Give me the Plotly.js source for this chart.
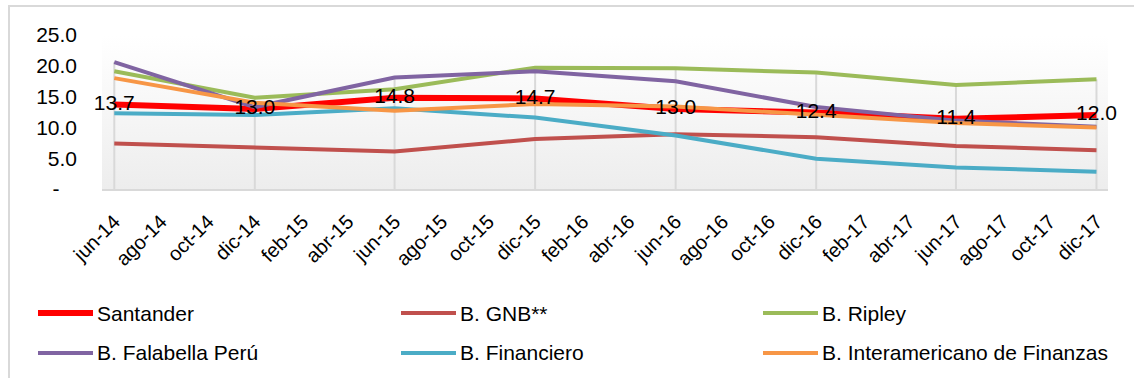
<!DOCTYPE html>
<html>
<head>
<meta charset="utf-8">
<script src="https://cdn.plot.ly/plotly-3.0.1.min.js"></script>
<style>
  html, body { margin: 0; padding: 0; background: #ffffff; overflow: hidden; }
  #chart { position: absolute; left: 0; top: 0; width: 1134px; height: 378px; }
  #frame { position: absolute; left: 8px; top: 5px; width: 1300px; height: 600px;
           border-left: 2px solid #d9d9d9; border-top: 2px solid #d9d9d9; pointer-events: none; }
</style>
</head>
<body>
<div id="frame"></div>
<div id="chart"></div>
<script>
// ---- data ----
const months = ['2014-06-01','2014-12-01','2015-06-01','2015-12-01','2016-06-01','2016-12-01','2017-06-01','2017-12-01'];
const santander      = [13.7, 13.0, 14.8, 14.7, 13.0, 12.4, 11.4, 12.0];
const gnb            = [7.4, 6.8, 6.1, 8.1, 8.9, 8.4, 7.0, 6.3];
const ripley         = [19.1, 14.8, 16.2, 19.7, 19.6, 18.9, 16.9, 17.8];
const falabella      = [20.6, 13.3, 18.1, 19.1, 17.5, 13.3, 11.1, 10.1];
const financiero     = [12.3, 12.0, 13.1, 11.6, 8.7, 4.9, 3.5, 2.8];
const interamericano = [18.0, 14.0, 12.7, 13.8, 13.4, 12.0, 10.7, 10.0];

const seriesNames  = ['Santander', 'B. GNB**', 'B. Ripley', 'B. Falabella Perú', 'B. Financiero', 'B. Interamericano de Finanzas'];
const seriesValues = [santander, gnb, ripley, falabella, financiero, interamericano];
const seriesColors = ['#ff0000', '#c0504d', '#9bbb59', '#8064a2', '#4bacc6', '#f79646'];

const xTickVals = ['2014-06-01','2014-08-01','2014-10-01','2014-12-01','2015-02-01','2015-04-01','2015-06-01','2015-08-01','2015-10-01','2015-12-01','2016-02-01','2016-04-01','2016-06-01','2016-08-01','2016-10-01','2016-12-01','2017-02-01','2017-04-01','2017-06-01','2017-08-01','2017-10-01','2017-12-01'];
const xTickText = ['jun-14','ago-14','oct-14','dic-14','feb-15','abr-15','jun-15','ago-15','oct-15','dic-15','feb-16','abr-16','jun-16','ago-16','oct-16','dic-16','feb-17','abr-17','jun-17','ago-17','oct-17','dic-17'];
const yTickVals = [0, 5, 10, 15, 20, 25];
const yTickText = ['-\u00a0\u00a0\u00a0', '5.0', '10.0', '15.0', '20.0', '25.0'];

// ---- layout constants (pixels) ----
const W = 1134, H = 378;
const PL = 102, PR = 1108, PT = 35, PB = 189;
const FONT = 'Arial, "Liberation Sans", sans-serif';

const toPX = px => (px - PL) / (PR - PL);
const toPY = py => (PB - py) / (PB - PT);

const traces = seriesNames.map((name, i) => ({
  type: 'scatter', mode: 'lines', name: name,
  x: months, y: seriesValues[i],
  line: { color: seriesColors[i], width: i === 0 ? 6 : 4 },
  hoverinfo: 'skip'
}));
// data labels for Santander on top
traces.push({
  type: 'scatter', mode: 'text', x: months, y: santander,
  text: santander.map(v => v.toFixed(1)),
  textposition: 'middle center', cliponaxis: false,
  textfont: { family: FONT, size: 21, color: '#000000' },
  hoverinfo: 'skip', showlegend: false
});

// drop lines from highest point to axis
const shapes = months.map((m, i) => ({
  type: 'line', xref: 'x', yref: 'y', layer: 'below',
  x0: m, x1: m, y0: 0, y1: Math.max(...seriesValues.map(s => s[i])),
  line: { color: '#d9d9d9', width: 2 }
}));

// custom legend
const legendCols = [38, 401, 763];
const legendRows = [313, 353];
const annotations = [];
seriesNames.forEach((name, i) => {
  const cx = legendCols[i % 3], cy = legendRows[Math.floor(i / 3)];
  shapes.push({
    type: 'line', xref: 'paper', yref: 'paper',
    x0: toPX(cx), x1: toPX(cx + 55), y0: toPY(cy), y1: toPY(cy),
    line: { color: seriesColors[i], width: i === 0 ? 6 : 4 }
  });
  annotations.push({
    xref: 'paper', yref: 'paper', x: toPX(cx + 57), y: toPY(cy),
    xanchor: 'left', yanchor: 'middle', showarrow: false,
    text: name, font: { family: FONT, size: 21, color: '#000000' }
  });
});

const grad = 'data:image/svg+xml;utf8,' + encodeURIComponent(
  '<svg xmlns="http://www.w3.org/2000/svg" width="10" height="100" preserveAspectRatio="none">' +
  '<defs><linearGradient id="g" x1="0" y1="0" x2="0" y2="1">' +
  '<stop offset="0" stop-color="#ffffff"/><stop offset="0.13" stop-color="#fdfdfd"/>' +
  '<stop offset="1" stop-color="#ededed"/></linearGradient></defs>' +
  '<rect width="10" height="100" fill="url(#g)"/></svg>');

const layout = {
  width: W, height: H,
  margin: { l: PL, r: W - PR, t: PT, b: H - PB, pad: 0 },
  paper_bgcolor: 'rgba(0,0,0,0)',
  plot_bgcolor: 'rgba(0,0,0,0)',
  showlegend: false,
  font: { family: FONT, color: '#000000' },
  xaxis: {
    type: 'date', range: ['2014-05-16', '2017-12-16'],
    tickvals: xTickVals, ticktext: xTickText, tickangle: -45,
    tickfont: { family: FONT, size: 20, color: '#000000' },
    showgrid: false, zeroline: false,
    showline: true, linecolor: '#d9d9d9', linewidth: 2,
    ticks: '', ticklabelstandoff: 11, fixedrange: true
  },
  yaxis: {
    range: [0, 25], tickvals: yTickVals, ticktext: yTickText,
    tickfont: { family: FONT, size: 21, color: '#000000' },
    showgrid: false, zeroline: false, showline: false,
    ticks: '', ticklabelstandoff: 24, fixedrange: true
  },
  shapes: shapes,
  annotations: annotations,
  images: [{
    source: grad, xref: 'paper', yref: 'paper', x: 0, y: 1, sizex: 1, sizey: 1,
    xanchor: 'left', yanchor: 'top', sizing: 'stretch', layer: 'below'
  }]
};

Plotly.newPlot('chart', traces, layout, { displayModeBar: false, staticPlot: true });
</script>
</body>
</html>
